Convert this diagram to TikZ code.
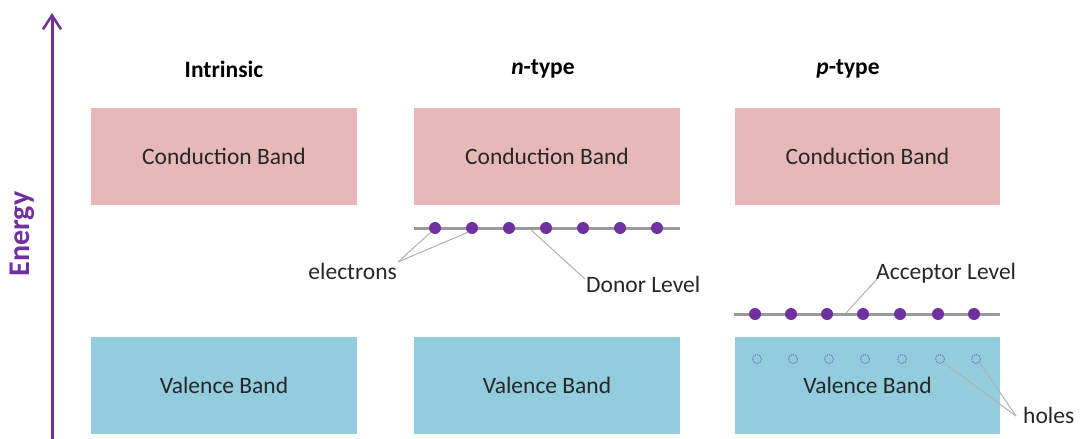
\documentclass[tikz,border=0pt]{standalone}
\usepackage{fontspec}
\setmainfont{Carlito}
\usetikzlibrary{arrows.meta}
\definecolor{cband}{HTML}{E6B9B8}
\definecolor{vband}{HTML}{93CDDD}
\definecolor{epurple}{HTML}{7030A0}
\definecolor{levgray}{HTML}{9A9A9A}
\definecolor{leadgray}{HTML}{B0B0B0}
\definecolor{holecol}{HTML}{6F6FC0}
\definecolor{txt}{HTML}{262626}
\tikzset{
  band/.style={draw=none,minimum width=266pt,minimum height=97pt,inner sep=0pt,text=txt,font=\fontsize{23.5}{26}\selectfont},
  cb/.style={band,fill=cband},
  vb/.style={band,fill=vband},
  title/.style={font=\fontsize{23.5}{26}\selectfont\bfseries,text=black},
  lbl/.style={font=\fontsize{23.5}{26}\selectfont,text=txt,inner sep=0pt},
  level/.style={draw=levgray,line width=3pt},
  electron/.style={circle,fill=epurple,minimum size=12pt,inner sep=0pt},
  hole/.style={circle,draw=holecol,densely dotted,line width=1pt,minimum size=9pt,inner sep=0pt},
  leader/.style={draw=leadgray,line width=1pt},
}
\begin{document}
\begin{tikzpicture}[x=1pt,y=-1pt]
\useasboundingbox (0,0) rectangle (1087,439);
% energy axis
\coordinate (ab) at (52,439);
\coordinate (at) at (52,13);
\draw[epurple,line width=3pt,-{Straight Barb[length=14pt,width=18pt,line width=2.5pt]}] (ab) -- (at);
\node[rotate=90,text=epurple,font=\fontsize{30}{32}\selectfont\bfseries] (energy) at (22,234) {Energy};
% titles
\node[title] (t1) at (224,69) {Intrinsic};
\node[title] (t2) at (543,69) {\textit{n}-type};
\node[title] (t3) at (848,69) {\textit{p}-type};
% bands
\node[cb] (c1) at (224,156.5) {Conduction Band};
\node[cb] (c2) at (547,156.5) {Conduction Band};
\node[cb,minimum width=265pt] (c3) at (867.5,156.5) {Conduction Band};
\node[vb] (v1) at (224,385.5) {Valence Band};
\node[vb] (v2) at (547,385.5) {Valence Band};
\node[vb,minimum width=265pt] (v3) at (867.5,385.5) {Valence Band};
% donor level
\coordinate (dl) at (414,228);
\coordinate (dr) at (680,228);
\draw[level] (dl) -- (dr);
\foreach \i/\x in {1/435,2/472,3/509,4/546,5/583,6/620,7/657}
  \node[electron] (d\i) at (\x,228) {};
% acceptor level
\coordinate (al) at (734,314);
\coordinate (ar) at (1000,314);
\draw[level] (al) -- (ar);
\foreach \i/\x in {1/755,2/791,3/827,4/863,5/900,6/938,7/974}
  \node[electron] (a\i) at (\x,314) {};
% holes
\foreach \i/\x in {1/757,2/793,3/829,4/865,5/902,6/940,7/976}
  \node[hole] (h\i) at (\x,359) {};
% labels
\node[lbl,anchor=east] (el) at (397,271) {electrons};
\node[lbl,anchor=west] (dn) at (586,284) {Donor Level};
\node[lbl,anchor=west] (ac) at (876,273) {Acceptor Level};
\node[lbl,anchor=west] (ho) at (1023,415) {holes};
% leaders
\coordinate (ej) at (398,262);
\draw[leader] (ej) -- (d1.south west);
\draw[leader] (ej) -- (d2.south west);
\coordinate (dj) at (530,229);
\coordinate (dk) at (585,279);
\draw[leader] (dj) -- (dk);
\coordinate (aj) at (846,313);
\coordinate (ak) at (877,279);
\draw[leader] (aj) -- (ak);
\coordinate (hj) at (1016,416);
\draw[leader] (hj) -- (h6.south east);
\draw[leader] (hj) -- (h7.south east);
\end{tikzpicture}
\end{document}
